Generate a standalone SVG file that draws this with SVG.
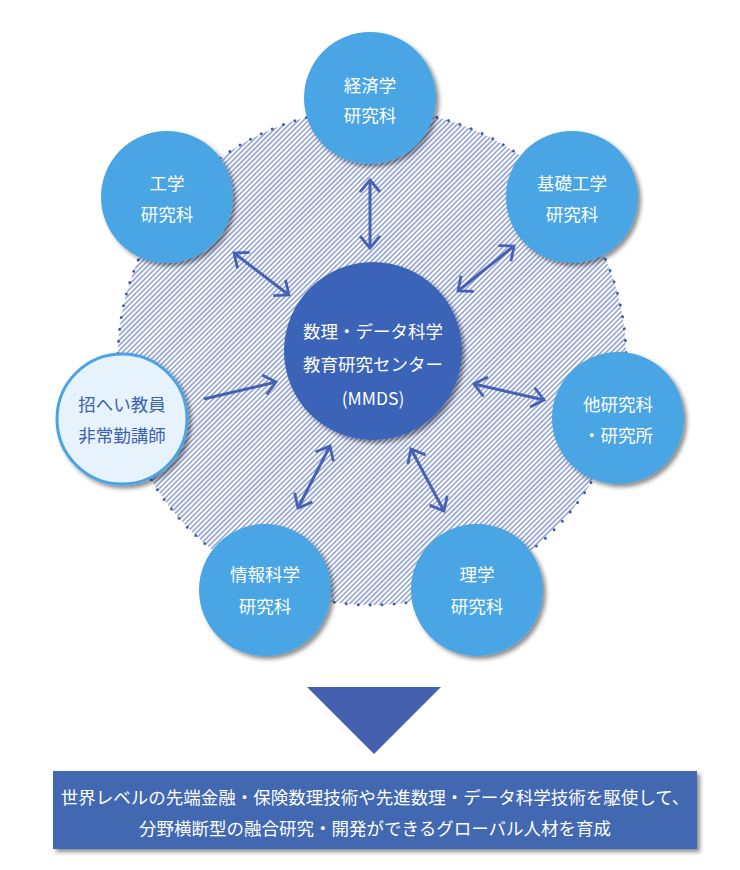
<svg xmlns="http://www.w3.org/2000/svg" width="740" height="870" viewBox="0 0 740 870">
<style>
.node{fill:#48A5E3}
.t{font-family:"Noto Sans CJK JP","Noto Sans",sans-serif;font-size:17.5px;fill:#ffffff;text-anchor:middle;dominant-baseline:central}
.tb{fill:#3F5FB0}
.arrow{stroke:#4660B4;stroke-width:3;fill:none}
</style>
<defs>
<pattern id="hatch" width="3.6" height="3.6" patternUnits="userSpaceOnUse" patternTransform="rotate(45)">
<rect width="3.6" height="3.6" fill="#ffffff"/>
<line x1="0.9" y1="0" x2="0.9" y2="3.6" stroke="#5068B4" stroke-width="1"/>
</pattern>
<filter id="sh" x="-20%" y="-20%" width="150%" height="150%">
<feDropShadow dx="3" dy="3" stdDeviation="2.2" flood-color="#000" flood-opacity="0.45"/>
</filter>
<marker id="ah" viewBox="0 0 13 22" refX="12" refY="11" markerWidth="13" markerHeight="22" markerUnits="userSpaceOnUse" orient="auto-start-reverse" overflow="visible">
<path d="M0,1 L12,11 L0,21" fill="none" stroke="#4660B4" stroke-width="2.8" stroke-linejoin="miter"/>
</marker>
</defs>
<rect width="740" height="870" fill="#ffffff"/>
<g id="background">
<ellipse cx="372" cy="357" rx="254" ry="248" fill="url(#hatch)"/>
<ellipse cx="372" cy="357" rx="254" ry="248" fill="none" stroke="#3F5FB0" stroke-width="3" stroke-dasharray="0 12" stroke-linecap="round"/>
</g>
<g id="connectors">
<line class="arrow" x1="370" y1="180" x2="370" y2="248" marker-start="url(#ah)" marker-end="url(#ah)"/>
<line class="arrow" x1="234" y1="253" x2="289" y2="295" marker-start="url(#ah)" marker-end="url(#ah)"/>
<line class="arrow" x1="514" y1="246" x2="458" y2="291" marker-start="url(#ah)" marker-end="url(#ah)"/>
<line class="arrow" x1="204" y1="399" x2="276" y2="382" marker-end="url(#ah)"/>
<line class="arrow" x1="474" y1="384" x2="544" y2="400" marker-start="url(#ah)" marker-end="url(#ah)"/>
<line class="arrow" x1="330" y1="446" x2="298" y2="508" marker-start="url(#ah)" marker-end="url(#ah)"/>
<line class="arrow" x1="411" y1="449" x2="444" y2="511" marker-start="url(#ah)" marker-end="url(#ah)"/>
</g>
<g id="mmds">
<circle cx="373" cy="351" r="89" fill="#3A63B8" filter="url(#sh)"/>
<text class="t" x="373" y="330">数理・データ科学</text>
<text class="t" x="373" y="363">教育研究センター</text>
<text class="t" x="373" y="397">(MMDS)</text>
</g>
<g id="keizai">
<circle class="node" cx="370" cy="98" r="66" filter="url(#sh)"/>
<text class="t" x="370" y="84">経済学</text>
<text class="t" x="370" y="114">研究科</text>
</g>
<g id="kougaku">
<circle class="node" cx="167" cy="197" r="66" filter="url(#sh)"/>
<text class="t" x="167" y="182">工学</text>
<text class="t" x="167" y="213">研究科</text>
</g>
<g id="kiso">
<circle class="node" cx="572" cy="197" r="66" filter="url(#sh)"/>
<text class="t" x="572" y="182">基礎工学</text>
<text class="t" x="572" y="213">研究科</text>
</g>
<g id="shohei">
<circle cx="122" cy="419" r="65" fill="#E6F3FC" stroke="#4BA3E3" stroke-width="3" filter="url(#sh)"/>
<text class="t tb" x="122" y="403">招へい教員</text>
<text class="t tb" x="122" y="434">非常勤講師</text>
</g>
<g id="other">
<circle class="node" cx="618" cy="418" r="66" filter="url(#sh)"/>
<text class="t" x="618" y="403">他研究科</text>
<text class="t" x="618" y="434">・研究所</text>
</g>
<g id="joho">
<circle class="node" cx="265" cy="590" r="66" filter="url(#sh)"/>
<text class="t" x="265" y="573">情報科学</text>
<text class="t" x="265" y="605">研究科</text>
</g>
<g id="rigaku">
<circle class="node" cx="477" cy="590" r="66" filter="url(#sh)"/>
<text class="t" x="477" y="573">理学</text>
<text class="t" x="477" y="605">研究科</text>
</g>
<g id="down-arrow">
<polygon points="307,687 441,687 374,754" fill="#4660B0"/>
</g>
<g id="goal">
<rect x="53" y="771" width="644" height="78" fill="#4267B2" filter="url(#sh)"/>
<text class="t" x="375" y="796">世界レベルの先端金融・保険数理技術や先進数理・データ科学技術を駆使して、</text>
<text class="t" x="375" y="827">分野横断型の融合研究・開発ができるグローバル人材を育成</text>
</g>
</svg>
